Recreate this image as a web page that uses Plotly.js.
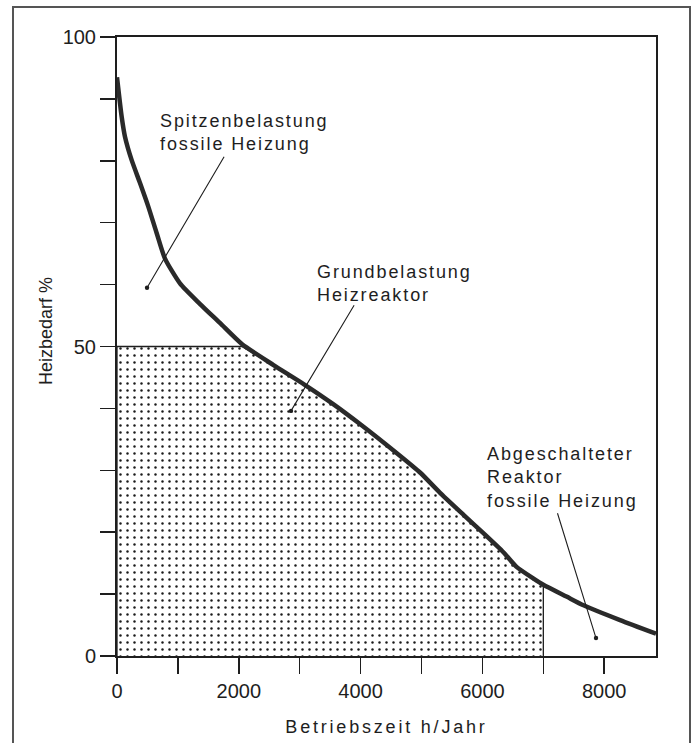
<!DOCTYPE html>
<html>
<head>
<meta charset="utf-8">
<script src="https://cdn.plot.ly/plotly-3.0.1.min.js"></script>
<style>
html, body { margin: 0; padding: 0; background: #fff; }
.annotation-text { letter-spacing: 1.9px; }
g.annotation[data-index="0"] .annotation-text { letter-spacing: 0px; }
.xtitle { letter-spacing: 2.8px; }
</style>
</head>
<body>
<div id="chart" style="width:696px;height:743px;"></div>
<script>
// Load duration curve
const hours  = [0, 77, 131, 241, 378, 514, 652, 788, 1034, 1360, 1690, 2050, 2570, 3070, 3550, 4000, 4590, 4980, 5300, 5690, 6020, 6340, 6560, 6840, 7000, 7380, 7660, 8260, 8850];
const demand = [93.5, 87.1, 83.9, 80.1, 76.4, 72.6, 68.3, 64.2, 60.2, 56.9, 53.8, 50.4, 47.0, 43.9, 40.7, 37.4, 32.8, 29.6, 26.4, 22.8, 19.8, 16.8, 14.4, 12.5, 11.5, 9.6, 8.2, 5.8, 3.6];

const baseLoad = 50;          // Grundbelastung Heizreaktor (%)
const baseLoadEnd = 2050;     // hour where base load meets the curve
const reactorHours = 7000;    // reactor switched off afterwards (h)
const reactorEndLoad = 11.5;  // demand at switch-off

const xTickVals = [0, 1000, 2000, 3000, 4000, 5000, 6000, 7000, 8000];
const xTickText = ['0', '', '2000', '', '4000', '', '6000', '', '8000'];
const yTickVals = [0, 10, 20, 30, 40, 50, 60, 70, 80, 90, 100];
const yTickText = ['0', '', '', '', '', '50', '', '', '', '', '100'];

const labels = {
  peak: 'Spitzenbelastung<br>fossile Heizung',
  base: 'Grundbelastung<br>Heizreaktor',
  off: 'Abgeschalteter<br>Reaktor<br>fossile Heizung',
  x: 'Betriebszeit h/Jahr',
  y: 'Heizbedarf %'
};

// Base-load region: under the curve, capped at baseLoad, up to reactorHours
const fillX = [0, 0, baseLoadEnd];
const fillY = [0, baseLoad, baseLoad];
for (let i = 0; i < hours.length; i++) {
  if (hours[i] > baseLoadEnd && hours[i] < reactorHours) {
    fillX.push(hours[i]);
    fillY.push(demand[i]);
  }
}
fillX.push(reactorHours, reactorHours);
fillY.push(reactorEndLoad, 0);

const FONT = 'Liberation Sans, Arial, Helvetica, sans-serif';
const INK = '#1e1e1e';

const traces = [
  {
    x: fillX, y: fillY, type: 'scatter', mode: 'lines',
    fill: 'toself', fillcolor: 'rgba(0,0,0,0)',
    fillpattern: { shape: '.', size: 7, solidity: 0.1, fgcolor: '#1a1a1a', bgcolor: '#ffffff' },
    line: { color: INK, width: 1.3 },
    hoverinfo: 'skip', showlegend: false
  },
  {
    x: hours, y: demand, type: 'scatter', mode: 'lines',
    line: { color: '#2a2a2a', width: 4.5, shape: 'spline', smoothing: 0.6 },
    showlegend: false
  }
];

const W = 539, H = 619, L = 117, T = 37;
function px(v) { return (v - L) / W; }
function py(v) { return (T + H - v) / H; }

const layout = {
  width: 696, height: 743,
  margin: { l: 117, r: 40, t: 37, b: 87 },
  paper_bgcolor: '#fff', plot_bgcolor: '#fff',
  font: { family: FONT, color: INK, size: 20 },
  showlegend: false,
  xaxis: {
    range: [0, 8850], showgrid: false, zeroline: false,
    showline: true, mirror: true, linecolor: INK, linewidth: 2,
    ticks: 'outside', ticklen: 16, tickwidth: 1.5, tickcolor: INK,
    tickmode: 'array', tickvals: xTickVals, ticktext: xTickText,
    tickfont: { family: FONT, size: 20, color: INK },
    title: { text: labels.x, font: { family: FONT, size: 18, color: INK }, standoff: 19 }
  },
  yaxis: {
    range: [0, 100], showgrid: false, zeroline: false,
    showline: true, mirror: true, linecolor: INK, linewidth: 2,
    ticks: 'outside', ticklen: 15, tickwidth: 1.5, tickcolor: INK,
    tickmode: 'array', tickvals: yTickVals, ticktext: yTickText,
    tickfont: { family: FONT, size: 20, color: INK }
  },
  shapes: [
    {
      type: 'path', xref: 'paper', yref: 'paper',
      path: 'M ' + px(13) + ' ' + py(760) + ' L ' + px(13) + ' ' + py(7) +
            ' L ' + px(690) + ' ' + py(7) + ' L ' + px(690) + ' ' + py(760),
      line: { color: '#555', width: 2 }
    }
  ],
  annotations: [
    { x: px(45.5), y: py(331), xref: 'paper', yref: 'paper', text: labels.y, showarrow: false,
      textangle: -90, xanchor: 'center', yanchor: 'middle', font: { family: FONT, size: 18, color: INK } },
    { x: 673, y: 84.6, xref: 'x', yref: 'y', text: labels.peak, showarrow: false,
      xanchor: 'left', yanchor: 'middle', align: 'left', font: { family: FONT, size: 18, color: INK } },
    { x: 3251, y: 60.2, xref: 'x', yref: 'y', text: labels.base, showarrow: false,
      xanchor: 'left', yanchor: 'middle', align: 'left', font: { family: FONT, size: 18, color: INK } },
    { x: 6043, y: 28.8, xref: 'x', yref: 'y', text: labels.off, showarrow: false,
      xanchor: 'left', yanchor: 'middle', align: 'left', font: { family: FONT, size: 18, color: INK } },
    { x: 493, y: 59.5, ax: 1773, ay: 80.9, xref: 'x', yref: 'y', axref: 'x', ayref: 'y',
      text: '', showarrow: true, arrowhead: 6, arrowsize: 1, arrowwidth: 1.1, arrowcolor: INK, standoff: 0 },
    { x: 2857, y: 39.6, ax: 3908, ay: 56.9, xref: 'x', yref: 'y', axref: 'x', ayref: 'y',
      text: '', showarrow: true, arrowhead: 6, arrowsize: 1, arrowwidth: 1.1, arrowcolor: INK, standoff: 0 },
    { x: 7865, y: 2.9, ax: 7225, ay: 23.3, xref: 'x', yref: 'y', axref: 'x', ayref: 'y',
      text: '', showarrow: true, arrowhead: 6, arrowsize: 1, arrowwidth: 1.1, arrowcolor: INK, standoff: 0 }
  ]
};

Plotly.newPlot('chart', traces, layout, { displayModeBar: false, staticPlot: true });
</script>
</body>
</html>
